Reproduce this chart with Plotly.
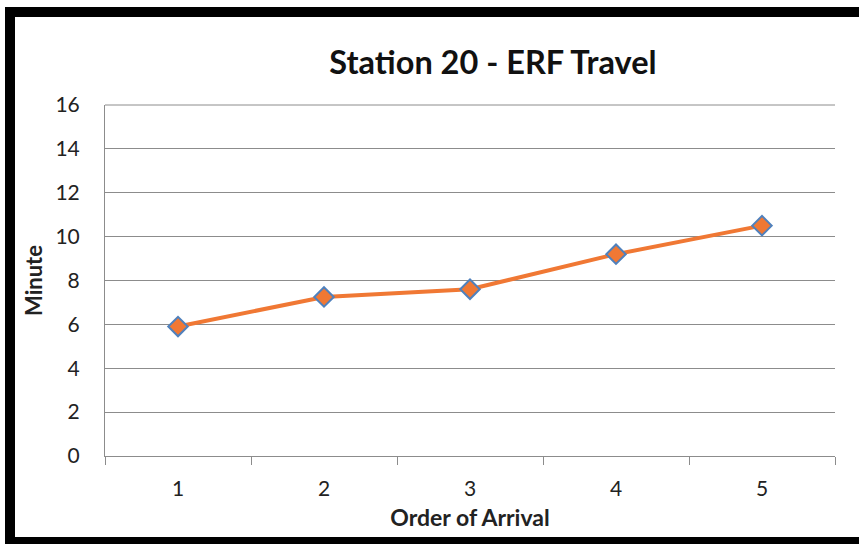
import plotly.graph_objects as go

# Arrival order and travel time (minutes)
order = ["1", "2", "3", "4", "5"]
minutes = [5.9, 7.25, 7.6, 9.2, 10.5]
y_ticks = [0, 2, 4, 6, 8, 10, 12, 14, 16]

W, H = 859, 544
L, R, T, B = 105, 24, 105, 88
pw, ph = W - L - R, H - T - B


def px_x(px):
    return (px - L) / pw


def px_y(py):
    return (H - B - py) / ph


fig = go.Figure()
fig.add_trace(go.Scatter(
    x=order, y=minutes, mode="lines+markers",
    line=dict(color="#F07834", width=4),
    marker=dict(symbol="diamond", size=15, color="#F07834",
                line=dict(color="#4F81BD", width=2)),
    showlegend=False, cliponaxis=False,
))

font = "Lato, 'Open Sans', sans-serif"

fig.update_layout(
    width=W, height=H,
    margin=dict(l=L, r=R, t=T, b=B),
    paper_bgcolor="white", plot_bgcolor="white",
    font=dict(family=font, color="#222222"),
    title=dict(text="<b>Station 20 - ERF Travel</b>", x=493 / W,
               xanchor="center", y=1 - 63 / H, yanchor="middle",
               font=dict(size=32.5, color="#111111", family=font)),
    xaxis=dict(
        type="category", tickson="boundaries", ticks="outside", ticklen=8,
        tickcolor="#8C8C8C", showline=True, linecolor="#8C8C8C", linewidth=1,
        showgrid=False, tickfont=dict(size=21), ticklabelstandoff=14,
        title=dict(text="<b>Order of Arrival</b>", font=dict(size=23), standoff=10),
        range=[-0.5, 4.5],
    ),
    yaxis=dict(
        range=[0, 16], tickvals=y_ticks, showline=True, linecolor="#8C8C8C",
        linewidth=1, showgrid=True, gridcolor="#8C8C8C", gridwidth=1,
        zeroline=False, tickfont=dict(size=21), ticklabelstandoff=20,
        title=dict(text="<b>Minute</b>", font=dict(size=22), standoff=6),
    ),
    shapes=[
        # top border of the plot area box
        dict(type="line", xref="paper", yref="paper", x0=0, x1=1, y0=1, y1=1,
             line=dict(color="#8C8C8C", width=1)),
        # outer black frame
        dict(type="rect", xref="paper", yref="paper",
             x0=px_x(10), x1=px_x(920), y0=px_y(12), y1=px_y(542),
             line=dict(color="black", width=10), fillcolor="rgba(0,0,0,0)",
             layer="above"),
    ],
)

fig.write_html("out.html")
